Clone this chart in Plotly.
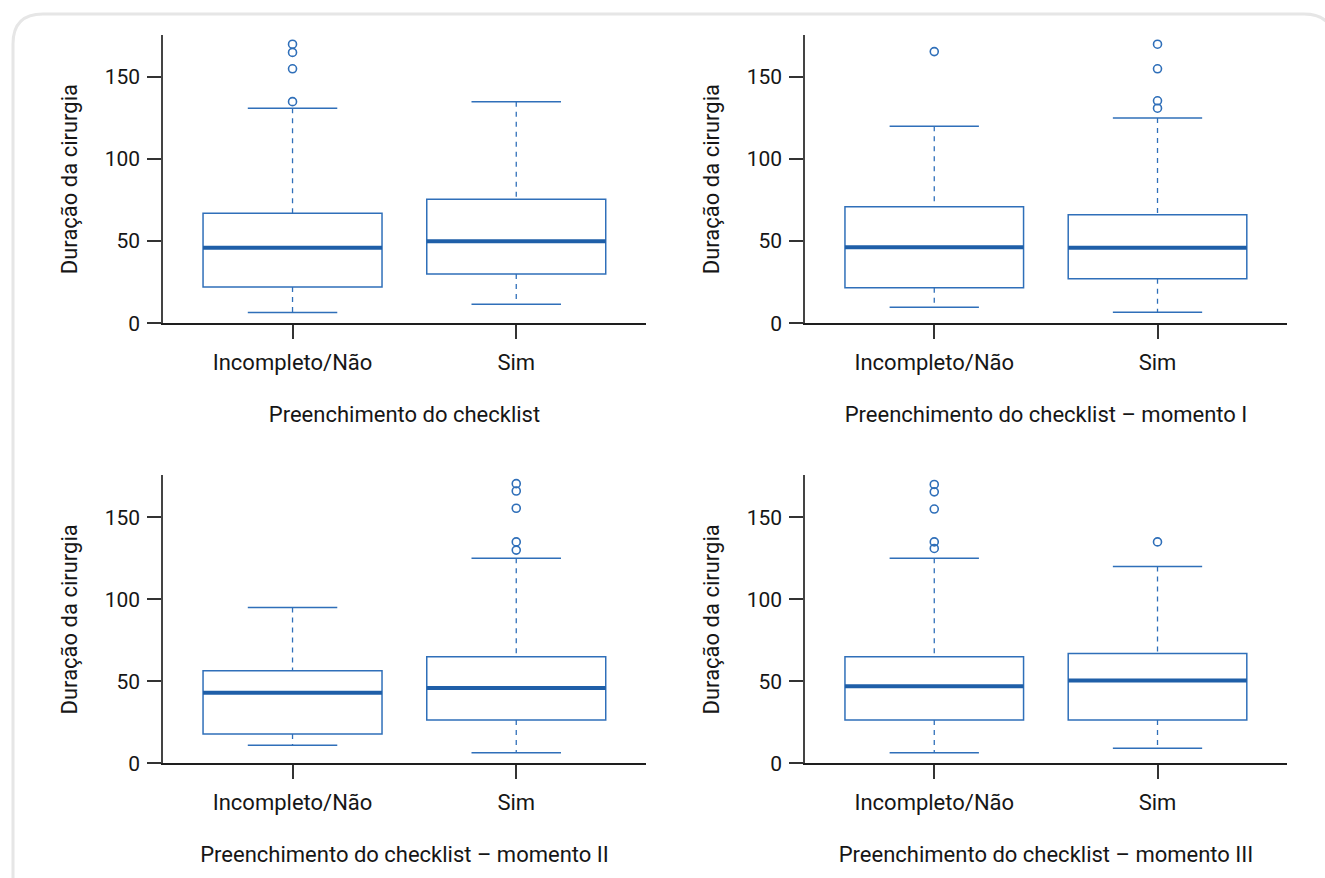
import plotly.graph_objects as go

# Page is shown with body margin 0; the photographed view is ~0.986 of the
# page height, so vertical positions are laid out in page pixels = y / SY.
VW, VH = 1325, 878
SY = 0.986
W, H = VW, 891

categories = ["Incompleto/Não", "Sim"]
panel_titles = [
    "Preenchimento do checklist",
    "Preenchimento do checklist – momento I",
    "Preenchimento do checklist – momento II",
    "Preenchimento do checklist – momento III",
]
y_title = "Duração da cirurgia"
y_ticks = [0, 50, 100, 150]

# per panel: [Incompleto/Não, Sim]
q1_vals = [[22, 30], [21.6, 27], [18, 26.5], [26.5, 26.5]]
median_vals = [[46, 50], [46.3, 46], [43, 46], [47, 50.5]]
q3_vals = [[67, 75.5], [71, 66], [56.5, 65], [65, 67]]
lower_whisker = [[6.5, 11.5], [9.7, 6.7], [11, 6.5], [6.5, 9.3]]
upper_whisker = [[131, 135], [120, 125], [95, 125], [125, 120]]
outliers = [
    [[135, 155, 165, 170], []],
    [[165.5], [131, 135.5, 155, 170]],
    [[], [130, 135, 155.5, 166, 170.5]],
    [[131, 135, 155, 165.5, 170], [135]],
]

BOX_COLOR = "#2f6fb9"
MED_COLOR = "#1f5fa8"
FONT = "Roboto"
TXT = "#161616"


def px(x):
    return x / W


def py(y):
    return 1 - (y / SY) / H


# window-pixel layout of the four plot areas (left, right, top, bottom)
areas = [(163, 646, 35, 323), (805, 1287, 35, 323),
         (163, 646, 475, 763), (805, 1287, 475, 763)]

BOXW = 0.8
CAPW = 0.4

fig = go.Figure()
layout = {}
for p in range(4):
    sfx = "" if p == 0 else str(p + 1)
    xa, ya = "x" + sfx, "y" + sfx
    for i in range(2):
        q1, md, q3 = q1_vals[p][i], median_vals[p][i], q3_vals[p][i]
        lf, uf = lower_whisker[p][i], upper_whisker[p][i]
        # dashed whiskers
        fig.add_trace(go.Scatter(
            x=[i, i, None, i, i], y=[uf, q3, None, q1, lf], mode="lines",
            line=dict(color=BOX_COLOR, width=1.3, dash="5px,5px"),
            xaxis=xa, yaxis=ya, showlegend=False, hoverinfo="skip"))
        # caps
        fig.add_trace(go.Scatter(
            x=[i - CAPW / 2, i + CAPW / 2, None, i - CAPW / 2, i + CAPW / 2],
            y=[uf, uf, None, lf, lf], mode="lines",
            line=dict(color=BOX_COLOR, width=1.5),
            xaxis=xa, yaxis=ya, showlegend=False, hoverinfo="skip"))
        # box body
        fig.add_trace(go.Box(
            x=[i], q1=[q1], median=[md], q3=[q3], lowerfence=[q1], upperfence=[q3],
            width=BOXW, whiskerwidth=0, boxpoints=False,
            line=dict(color=BOX_COLOR, width=1.5), fillcolor="rgba(255,255,255,0)",
            xaxis=xa, yaxis=ya, showlegend=False))
        # median
        fig.add_trace(go.Scatter(
            x=[i - BOXW / 2, i + BOXW / 2], y=[md, md], mode="lines",
            line=dict(color=MED_COLOR, width=4),
            xaxis=xa, yaxis=ya, showlegend=False, hoverinfo="skip"))
        # outliers
        if outliers[p][i]:
            fig.add_trace(go.Scatter(
                x=[i] * len(outliers[p][i]), y=outliers[p][i], mode="markers",
                marker=dict(symbol="circle-open", size=8, color=BOX_COLOR,
                            line=dict(width=1.6, color=BOX_COLOR)),
                xaxis=xa, yaxis=ya, showlegend=False))
    l, r, t, b = areas[p]
    layout["xaxis" + sfx] = dict(
        domain=[px(l), px(r)], anchor=ya, range=[-0.579, 1.58],
        tickvals=[0, 1], ticktext=categories, showline=True, linecolor="#1e1e1e",
        linewidth=2, ticks="outside", ticklen=14, tickcolor="#333", tickwidth=1.5,
        showgrid=False, zeroline=False, ticklabelstandoff=4,
        tickfont=dict(family=FONT, size=22, color=TXT),
        title=dict(text=panel_titles[p], standoff=33,
                   font=dict(family=FONT, size=22, color=TXT)))
    layout["yaxis" + sfx] = dict(
        domain=[py(b), py(t)], anchor=xa, range=[0, 175.6],
        tickvals=y_ticks, showline=True, linecolor="#444", linewidth=1.5,
        ticks="outside", ticklen=14, tickcolor="#333", tickwidth=1.5,
        showgrid=False, zeroline=False, ticklabelstandoff=3,
        tickfont=dict(family=FONT, size=21, color=TXT),
        title=dict(text=y_title, standoff=21,
                   font=dict(family=FONT, size=22, color=TXT)))

# rounded card border (top corners rounded, open at the bottom)
rad = 30
L, T, R, B = 13, 14, 1334, 920
path = (f"M {px(L)},{py(B)} L {px(L)},{py(T + rad)} "
        f"Q {px(L)},{py(T)} {px(L + rad)},{py(T)} "
        f"L {px(R - rad)},{py(T)} Q {px(R)},{py(T)} {px(R)},{py(T + rad)} "
        f"L {px(R)},{py(B)}")
fig.add_shape(type="path", path=path, xref="paper", yref="paper",
              line=dict(color="#e6e6e6", width=3), layer="below")

fig.update_layout(
    width=W, height=H, margin=dict(l=0, r=0, t=0, b=0),
    paper_bgcolor="white", plot_bgcolor="rgba(0,0,0,0)",
    font=dict(family=FONT, color=TXT), showlegend=False, **layout)

fig.write_html(
    "out.html",
    config={"displayModeBar": False},
    post_script=("document.documentElement.style.overflow='hidden';"
                 "document.body.style.margin='0';"
                 "document.body.style.overflow='hidden';"))
